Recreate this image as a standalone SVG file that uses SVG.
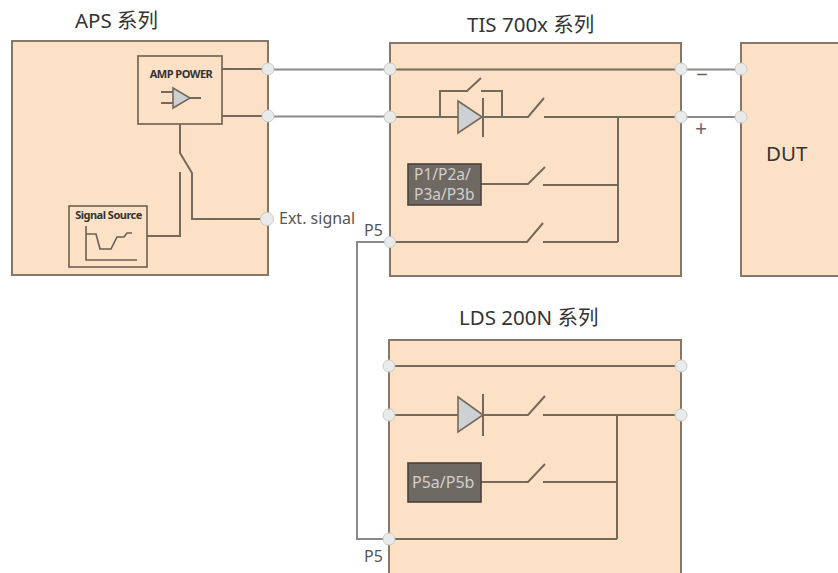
<svg xmlns="http://www.w3.org/2000/svg" width="838" height="573" viewBox="0 0 838 573">
<style>
.box{fill:#fce1c6;stroke:#85776a;stroke-width:2}
.sub{fill:none;stroke:#6b5f52;stroke-width:1.6}
.w{fill:none;stroke:#75695c;stroke-width:2}
.o{fill:none;stroke:#8a8a88;stroke-width:2}
.tri{fill:#ced1d3;stroke:#75695c;stroke-width:1.6}
.dark{fill:#6f6964;stroke:#4a423a;stroke-width:1.6}
.pin{fill:#e9ebeb;stroke:#c9c9c6;stroke-width:1}
text{font-family:"Noto Sans","Noto Sans CJK SC",sans-serif}
.t{font-size:20.500px;fill:#333}
.l{font-size:16px;fill:#555}
.s{font-size:21px;fill:#666}
.d{font-size:15.500px;fill:#d2cfcc}
.p{font-size:16px;fill:#d2cfcc}
.b{font-size:11px;fill:#333;font-weight:700;letter-spacing:-.5px}
</style>
<g id="connectors">
<path class="o" d="M268 69.500H390M268 116.500H390M681 69.500H741M681 117H741M390 242H357V539H389"/>
</g>
<g id="aps">
<rect class="box" x="12" y="41" width="256" height="234"/>
<rect class="sub" x="138" y="56" width="84" height="68"/>
<text class="b" x="181" y="78" text-anchor="middle">AMP POWER</text>
<path class="w" stroke-width="1.500" d="M161 92H173M161 103H173M190 98H201"/>
<path class="tri" d="M173 88L190 98L173 108Z"/>
<path class="w" d="M222 69H268M222 116H268M180 124V153L192 173V219H267M180 172V236H147"/>
<rect class="sub" x="69" y="206" width="78" height="61"/>
<text class="b" x="108.500" y="219" text-anchor="middle">Signal Source</text>
<path class="sub" d="M86 226V260H137M86 234H96L100 249H111L117 237H124L127 233H132"/>
<circle class="pin" cx="268" cy="69" r="6"/>
<circle class="pin" cx="268" cy="116" r="6"/>
<circle class="pin" cx="267" cy="219" r="6.500"/>
<text class="t" x="75" y="28">APS 系列</text>
<text class="l" x="279" y="224">Ext. signal</text>
</g>
<g id="tis">
<rect class="box" x="390" y="43" width="291" height="233"/>
<path class="w" d="M390 69.500H681M390 117H458M440 117V91H467L481 78M481 91H502V117M483 117H528L544 98M544 117H681M618 117V242M481 184H528L545 167M543 185H618M390 242H527L543 223M543 242H618"/>
<path class="tri" d="M458 101L482 117L458 133Z"/>
<path class="w" d="M483 98V137"/>
<rect class="dark" x="408" y="164" width="73" height="41"/>
<text class="d" x="414" y="180">P1/P2a/</text>
<text class="d" x="414" y="200">P3a/P3b</text>
<circle class="pin" cx="390" cy="69" r="6"/>
<circle class="pin" cx="390" cy="117" r="6"/>
<circle class="pin" cx="390" cy="242" r="5.500"/>
<circle class="pin" cx="681" cy="69" r="6"/>
<circle class="pin" cx="681" cy="117" r="6"/>
<text class="t" x="467" y="32">TIS 700x 系列</text>
<text class="l" x="364" y="236">P5</text>
<text class="s" x="696" y="82">−</text>
<text class="s" x="695" y="136">+</text>
</g>
<g id="dut">
<rect class="box" x="741" y="43" width="99" height="233"/>
<circle class="pin" cx="741" cy="69" r="6"/>
<circle class="pin" cx="741" cy="117" r="6"/>
<text class="t" x="766" y="161">DUT</text>
</g>
<g id="lds">
<rect class="box" x="389" y="340" width="292" height="236"/>
<path class="w" d="M389 366H681M389 415H458M483 415H528L545 396M543 415H681M617 415V539M481 482H528L545 464M543 482H617M389 539H617"/>
<path class="tri" d="M458 397L483 415L458 432Z"/>
<path class="w" d="M483 394V436"/>
<rect class="dark" x="408" y="463" width="73" height="39"/>
<text class="p" x="412" y="488">P5a/P5b</text>
<circle class="pin" cx="389" cy="366" r="6"/>
<circle class="pin" cx="389" cy="415" r="6"/>
<circle class="pin" cx="389" cy="539" r="6"/>
<circle class="pin" cx="681" cy="366" r="6"/>
<circle class="pin" cx="681" cy="415" r="6"/>
<text class="t" x="459" y="325">LDS 200N 系列</text>
<text class="l" x="364" y="562">P5</text>
</g>
</svg>
